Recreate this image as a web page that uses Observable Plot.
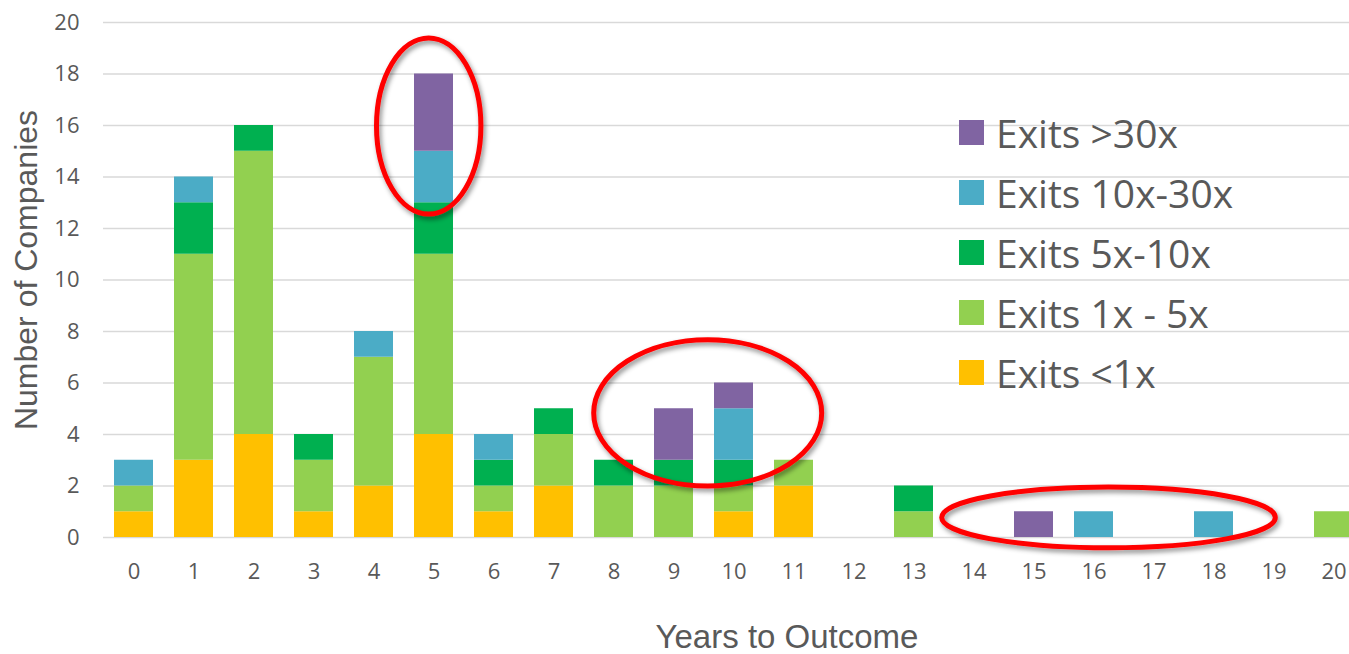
<!DOCTYPE html>
<html>
<head>
<meta charset="utf-8">
<script src="https://cdn.jsdelivr.net/npm/d3@7"></script>
<script src="https://cdn.jsdelivr.net/npm/@observablehq/plot@0.6"></script>
<style>
  html, body { margin: 0; padding: 0; background: #fff; }
  #wrap { position: relative; width: 1349px; height: 654px; overflow: hidden; }
  #wrap svg { position: absolute; left: 0; top: 0; overflow: visible; max-width: none !important; }
  .axis-title { position: absolute; font-family: "Liberation Sans", Arial, sans-serif; font-size: 32px; color: #595959; white-space: nowrap; }
  #ytitle { left: 26px; top: 270px; transform: translate(-50%, -50%) rotate(-90deg); }
  #xtitle { left: 787px; top: 637px; font-size: 33px; transform: translate(-50%, -50%); }
  #legend { position: absolute; left: 959px; top: 102px; font-family: "Open Sans", sans-serif; font-size: 39px; color: #595959; }
  #legend .row { display: flex; align-items: center; height: 60px; }
  #legend .sw { width: 25px; height: 25px; margin-right: 12px; flex: none; }
</style>
</head>
<body>
<div id="wrap">
  <div id="chart"></div>
  <div class="axis-title" id="ytitle">Number of Companies</div>
  <div class="axis-title" id="xtitle">Years to Outcome</div>
  <div id="legend"></div>
</div>
<script>
// Years from founding to exit
const years = [0, 1, 2, 3, 4, 5, 6, 7, 8, 9, 10, 11, 12, 13, 14, 15, 16, 17, 18, 19, 20];

// Number of companies per outcome band, by year
const exitsUnder1x  = [1, 3, 4, 1, 2, 4, 1, 2, 0, 0, 1, 2, 0, 0, 0, 0, 0, 0, 0, 0, 0];
const exits1to5x    = [1, 8, 11, 2, 5, 7, 1, 2, 2, 2, 1, 1, 0, 1, 0, 0, 0, 0, 0, 0, 1];
const exits5to10x   = [0, 2, 1, 1, 0, 2, 1, 1, 1, 1, 1, 0, 0, 1, 0, 0, 0, 0, 0, 0, 0];
const exits10to30x  = [1, 1, 0, 0, 1, 2, 1, 0, 0, 0, 2, 0, 0, 0, 0, 0, 1, 0, 1, 0, 0];
const exitsOver30x  = [0, 0, 0, 0, 0, 3, 0, 0, 0, 2, 1, 0, 0, 0, 0, 1, 0, 0, 0, 0, 0];

// Series names, bottom of the stack first
const seriesNames = ["Exits <1x", "Exits 1x - 5x", "Exits 5x-10x", "Exits 10x-30x", "Exits >30x"];
const seriesColors = ["#FFC000", "#92D050", "#00B050", "#4BACC6", "#8064A2"];
const seriesValues = [exitsUnder1x, exits1to5x, exits5to10x, exits10to30x, exitsOver30x];

// Legend order, top to bottom
const legendOrder = ["Exits >30x", "Exits 10x-30x", "Exits 5x-10x", "Exits 1x - 5x", "Exits <1x"];

// Y-axis ticks
const yTicks = [0, 2, 4, 6, 8, 10, 12, 14, 16, 18, 20];

// Highlight rings (centre in years / companies, radii in the same units)
const ringYear  = [4.92, 9.57, 16.25];
const ringCount = [15.96, 4.82, 0.76];
const ringRx    = [0.87, 1.9, 2.78];
const ringRy    = [3.42, 2.84, 1.18];

// Long-format table for the stacked bars
const rows = [];
seriesNames.forEach((name, s) => {
  years.forEach((yr, i) => {
    if (seriesValues[s][i] > 0) rows.push({year: yr, series: name, count: seriesValues[s][i]});
  });
});

// Red rings drawn through the plot's own scales
function rings(index, scales) {
  const x = scales.x, y = scales.y;
  const step = x(1) - x(0);
  const bw = typeof x.bandwidth === "function" ? x.bandwidth() : step * 0.65;
  const cx0 = x(0) + bw / 2;
  const g = d3.create("svg:g").attr("aria-label", "highlights");
  const defs = g.append("defs");
  const f = defs.append("filter").attr("id", "ringShadow")
    .attr("x", "-20%").attr("y", "-20%").attr("width", "140%").attr("height", "140%");
  f.append("feDropShadow").attr("dx", 2).attr("dy", 3).attr("stdDeviation", 2.5)
    .attr("flood-color", "#000").attr("flood-opacity", 0.45);
  ringYear.forEach((yr, i) => {
    g.append("ellipse")
      .attr("cx", cx0 + yr * step)
      .attr("cy", y(ringCount[i]))
      .attr("rx", ringRx[i] * step)
      .attr("ry", y(0) - y(ringRy[i]))
      .attr("fill", "none")
      .attr("stroke", "#FF0000")
      .attr("stroke-width", 5)
      .attr("filter", "url(#ringShadow)");
  });
  return g.node();
}

const chart = Plot.plot({
  width: 1363,
  height: 654,
  marginTop: 22,
  marginBottom: 117,
  marginLeft: 103,
  marginRight: 0,
  style: {fontFamily: "'Open Sans', sans-serif", color: "#595959", background: "transparent", maxWidth: "none"},
  x: {domain: years, paddingInner: 0.35, paddingOuter: 0.175, label: null},
  y: {domain: [0, 20], ticks: yTicks, label: null},
  color: {domain: seriesNames, range: seriesColors},
  marks: [
    Plot.gridY(yTicks, {stroke: "#D9D9D9", strokeOpacity: 1, strokeWidth: 1.5}),
    Plot.axisY(yTicks, {tickSize: 0, tickPadding: 24, fontSize: 22, label: null}),
    Plot.axisX({tickSize: 0, tickPadding: 26, fontSize: 22, label: null}),
    Plot.barY(rows, Plot.stackY({
      x: "year",
      y: "count",
      fill: "series",
      order: seriesNames
    })),
    rings
  ]
});
document.getElementById("chart").appendChild(chart);

// Legend
const legend = d3.select("#legend");
legendOrder.forEach(name => {
  const row = legend.append("div").attr("class", "row");
  row.append("div").attr("class", "sw").style("background", seriesColors[seriesNames.indexOf(name)]);
  row.append("div").text(name);
});
</script>
</body>
</html>
